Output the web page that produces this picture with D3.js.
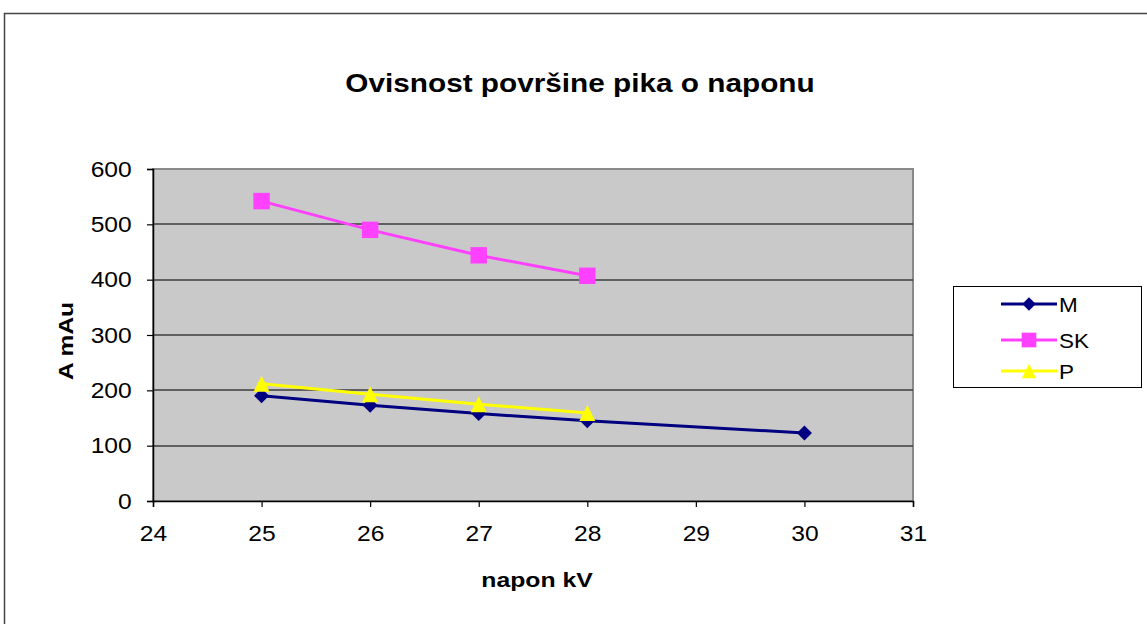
<!DOCTYPE html>
<html>
<head>
<meta charset="utf-8">
<title>Ovisnost površine pika o naponu</title>
<script src="https://d3js.org/d3.v7.min.js"></script>
<style>
  body { margin: 0; background: #fff; }
  text { font-family: Arial, "Liberation Sans", sans-serif; fill: #000; }
</style>
</head>
<body>
<div id="chart"></div>
<script>
// data
var xTicks = [24, 25, 26, 27, 28, 29, 30, 31];
var yTicks = [0, 100, 200, 300, 400, 500, 600];
var seriesNames = ["M", "SK", "P"];
var mX = [25, 26, 27, 28, 30];
var mY = [190, 173, 158, 145, 123];
var skX = [25, 26, 27, 28];
var skY = [542, 490, 444, 407];
var pX = [25, 26, 27, 28];
var pY = [212, 193, 175, 159];

var width = 1147, height = 624;
var svg = d3.select("#chart").append("svg")
    .attr("width", width).attr("height", height);

// outer chart frame
svg.append("rect")
    .attr("x", 4.5).attr("y", 13.5)
    .attr("width", 1300).attr("height", 800)
    .attr("fill", "#fff").attr("stroke", "#444").attr("stroke-width", 1.5);

var plotL = 153, plotR = 913, plotT = 169, plotB = 501;
var x = d3.scaleLinear().domain([24, 31]).range([plotL, plotR]);
var y = d3.scaleLinear().domain([0, 600]).range([plotB, plotT]);

// plot background
svg.append("rect")
    .attr("x", plotL).attr("y", plotT)
    .attr("width", plotR - plotL).attr("height", plotB - plotT)
    .attr("fill", "#c9c9c9").attr("stroke", "#8a8a8a").attr("stroke-width", 2);

// gridlines
svg.append("g").selectAll("line")
    .data(yTicks.filter(function(d){ return d > 0 && d < 600; }))
    .enter().append("line")
    .attr("x1", plotL).attr("x2", plotR)
    .attr("y1", function(d){ return Math.round(y(d)); })
    .attr("y2", function(d){ return Math.round(y(d)); })
    .attr("stroke", "#3c3c3c").attr("stroke-width", 1.6);

// axes
var xAxis = svg.append("g")
    .attr("transform", "translate(0," + plotB + ")")
    .call(d3.axisBottom(x).tickValues(xTicks).tickSize(6).tickPadding(18).tickFormat(d3.format("d")));
var yAxis = svg.append("g")
    .attr("transform", "translate(" + plotL + ",0)")
    .call(d3.axisLeft(y).tickValues(yTicks).tickSize(6).tickPadding(13));
[xAxis, yAxis].forEach(function(a){
  a.attr("font-size", 22).attr("font-family", "Arial, 'Liberation Sans', sans-serif");
  a.select(".domain").attr("stroke", "#000").attr("stroke-width", 1.5);
  a.selectAll(".tick line").attr("stroke", "#000").attr("stroke-width", 1.2);
  a.selectAll(".tick text").attr("fill", "#000").attr("transform", "scale(1.12,1)");
});

// titles (text in the picture runs a bit wider than Liberation Sans)
svg.append("text")
    .attr("transform", "translate(580,92) scale(1.19,1)")
    .attr("text-anchor", "middle").attr("font-size", 25).attr("font-weight", "bold")
    .text("Ovisnost površine pika o naponu");
svg.append("text")
    .attr("transform", "translate(537,587) scale(1.18,1)")
    .attr("text-anchor", "middle").attr("font-size", 21).attr("font-weight", "bold")
    .text("napon kV");
svg.append("text")
    .attr("transform", "translate(73,341) rotate(-90) scale(1.17,1)")
    .attr("text-anchor", "middle").attr("font-size", 21).attr("font-weight", "bold")
    .text("A mAu");

// marker shapes as in the picture
var diamond = { draw: function(ctx, size) {
  var r = Math.sqrt(size) / 2;
  ctx.moveTo(0, -r); ctx.lineTo(r, 0); ctx.lineTo(0, r); ctx.lineTo(-r, 0); ctx.closePath();
}};
var triangle = { draw: function(ctx, size) {
  var r = Math.sqrt(size) / 2;
  ctx.moveTo(0, -r); ctx.lineTo(r, r); ctx.lineTo(-r, r); ctx.closePath();
}};

var series = [
  { name: seriesNames[0], xs: mX, ys: mY, color: "#000080", shape: diamond, size: 225 },
  { name: seriesNames[1], xs: skX, ys: skY, color: "#ff40ff", shape: d3.symbolSquare, size: 270 },
  { name: seriesNames[2], xs: pX, ys: pY, color: "#ffff00", shape: triangle, size: 256 }
];

var line = d3.line().x(function(d){ return x(d[0]); }).y(function(d){ return y(d[1]); });

series.forEach(function(s){
  var pts = s.xs.map(function(v, i){ return [v, s.ys[i]]; });
  svg.append("path").datum(pts)
      .attr("d", line).attr("fill", "none")
      .attr("stroke", s.color).attr("stroke-width", 3);
  svg.append("g").selectAll("path").data(pts).enter().append("path")
      .attr("transform", function(d){ return "translate(" + x(d[0]) + "," + y(d[1]) + ")"; })
      .attr("d", d3.symbol().type(s.shape).size(s.size))
      .attr("fill", s.color);
});

// legend
var lg = svg.append("g");
lg.append("rect").attr("x", 953.5).attr("y", 286.5)
    .attr("width", 188).attr("height", 101)
    .attr("fill", "#fff").attr("stroke", "#000").attr("stroke-width", 1);
var rowY = [304, 340, 371];
series.forEach(function(s, i){
  lg.append("line").attr("x1", 1001).attr("x2", 1057)
      .attr("y1", rowY[i]).attr("y2", rowY[i])
      .attr("stroke", s.color).attr("stroke-width", 3);
  lg.append("path")
      .attr("transform", "translate(1029," + rowY[i] + ")")
      .attr("d", d3.symbol().type(s.shape).size(s.size * 0.8))
      .attr("fill", s.color);
  lg.append("text")
      .attr("transform", "translate(1059," + (rowY[i] + 8) + ") scale(1.07,1)")
      .attr("font-size", 21).text(s.name);
});
</script>
</body>
</html>
